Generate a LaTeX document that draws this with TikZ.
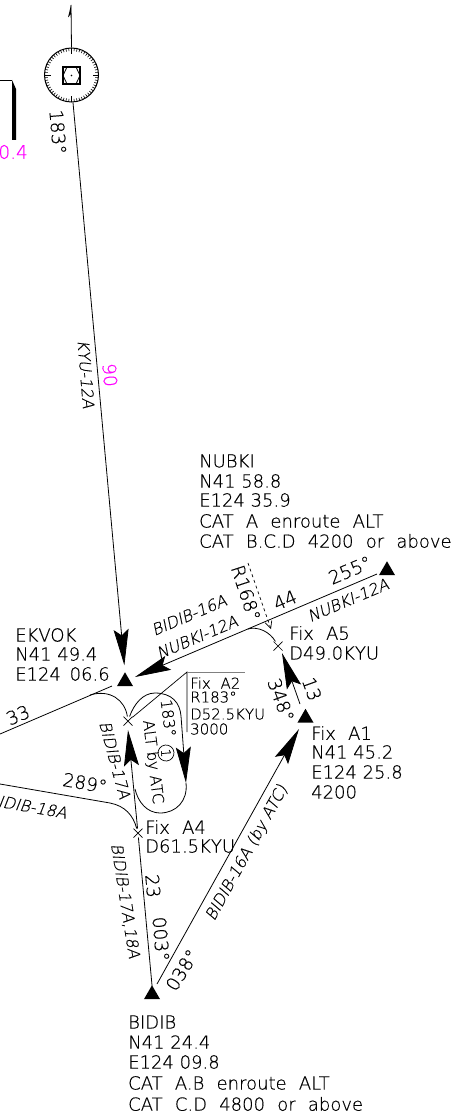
\documentclass[tikz,border=0pt]{standalone}
\usepackage{fontspec}
\setmainfont{DejaVu Sans ExtraLight}[FakeBold=0.4]
\newfontfamily\slantf{DejaVu Sans ExtraLight}[FakeSlant=0.2,FakeBold=0.4]
\usetikzlibrary{arrows.meta,shapes.geometric,shapes.misc}
\definecolor{mg}{RGB}{255,0,255}
\newcommand{\ws}{\hspace*{6.5pt}}
\tikzset{
 x=1pt,y=-1pt,
 route/.style={line width=0.8pt,black},
 bighead/.style={-{Stealth[length=36pt,width=15pt,inset=6pt]}},
 tri/.style={regular polygon,regular polygon sides=3,fill=black,draw=none,minimum size=18.5pt,inner sep=0pt,outer sep=0pt},
 fixx/.style={cross out,draw=black,line width=0.7pt,minimum size=9pt,inner sep=0pt,outer sep=0pt},
 blk/.style={anchor=west,inner sep=0pt,font=\fontsize{18}{19}\selectfont},
 small/.style={anchor=west,inner sep=0pt,font=\fontsize{15}{16}\selectfont},
 lab/.style={inner sep=0pt,font=\fontsize{18.5}{20}\selectfont},
 lsm/.style={inner sep=0pt,font=\fontsize{15.5}{17}\selectfont},
 air/.style={inner sep=0pt,font=\slantf\fontsize{16}{17}\selectfont},
}
\begin{document}
\begin{tikzpicture}
\path[use as bounding box] (0,0) rectangle (455,1118);
% VOR
\node[circle,draw=black,line width=1pt,minimum size=54pt,inner sep=0pt] (vor) at (71.5,75) {};
\foreach \a in {0,6,...,354}{\draw[line width=0.6pt] (vor.center) ++(\a:27) -- ++(\a:-3);}
\foreach \a in {0,90,180,270}{\draw[line width=0.8pt] (vor.center) ++(\a:27) -- ++(\a:-6);}
\node[draw=black,line width=1.4pt,minimum size=17pt,inner sep=0pt] (sq) at (71.5,75.5) {};
\draw[line width=0.8pt] (63,75.5)--(67,67)--(76,67)--(80,75.5)--(76,84)--(67,84)--cycle;
\fill (71.5,75.5) circle (0.9);
\coordinate (north) at (71,5);
\draw[route] (vor.north) -- (north);
\fill (north) -- (68,17.5) -- (71,14) -- cycle;
% top-left fragment
\coordinate (tl0) at (0,80);
\coordinate (tl1) at (12,80);
\draw[line width=0.7pt] (tl0) -- (tl1);
\fill (tl1) -- (16,89) -- (16,140) -- (12,140) -- cycle;
\node[lab,text=mg,anchor=east] (dist) at (28,152) {00.4};
% fixes and points
\node[tri] (ekvok) at (125,681.5) {};
\node[tri] (nubki) at (387,570.5) {};
\node[tri] (fixa1) at (305.5,718) {};
\node[tri] (bidib) at (152,994.5) {};
\node[fixx] (fixa2) at (128,721) {};
\node[fixx] (fixa4) at (138,833) {};
\node[fixx] (fixa5) at (278,646) {};
\coordinate (leftA) at (0,734);
\coordinate (leftB) at (0,784);
\coordinate (ldr1) at (187,672);
\coordinate (ldr2) at (245,672);
\coordinate (ldr3) at (187,732);
\coordinate (dash0) at (248,563);
\coordinate (dash1) at (271,629);
% connectors
\draw[route,bighead,shorten >=7pt] (vor.south) ++(1.5,0) -- (ekvok.north);
\draw[route,bighead] (377,574) -- (135,677);
\draw[route] (leftA) -- (112,686);
\draw[route] (90,695) .. controls (110,689) and (125,700) .. (fixa2);
\draw[route] (leftB) -- (110,803) .. controls (125,806) and (133,815) .. (fixa4);
\draw[route,bighead] (fixa4) -- (128,730);
\draw[route,shorten >=-1pt] (fixa4) -- (bidib.north);
\draw[route,bighead] (157,984) -- (299,729);
\draw[route,bighead] (300,704) -- (282,653);
\draw[route] (fixa5) .. controls (270,632) and (258,626) .. (248,629);
\draw[line width=0.7pt,dashed,-{Straight Barb[length=7pt,width=7pt]}] (dash0) -- (dash1);
% hold
\draw[route,bighead] (fixa2) .. controls (134,704) and (143,693) .. (155,693)
  .. controls (172,693) and (180,703) .. (181,716) -- (186,783);
\draw[route] (186,783) .. controls (188,801) and (176,813) .. (160,813)
  .. controls (147,813) and (138,802) .. (135,789);
% leader
\draw[line width=0.7pt] (fixa2) -- (ldr1) -- (ldr3);
\draw[line width=0.9pt,gray] (ldr1) -- (ldr2);
% blocks
\node[lab,rotate=-85] (t183) at (58,132) {183°};
\node[air,rotate=-85.3] (tkyu) at (86,374) {KYU-12A};
\node[lab,text=mg,rotate=-85.3] (t90) at (110,375) {90};
\node[blk,align=left] (a) at (199,461) {NUBKI};
\node[blk] (b) at (199,481) {N41 58.8};
\node[blk] (c) at (199,500) {E124 35.9};
\node[blk] (d) at (199,521) {CAT \ws A \ws enroute \ws ALT};
\node[blk] (e) at (199,541) {CAT \ws B.C.D \ws 4200 \ws or \ws above};
\node[blk] (f) at (15,635) {EKVOK};
\node[blk] (g) at (15,654) {N41 49.4};
\node[blk] (h) at (15,674) {E124 \hspace*{3pt}06.6};
\node[blk] (i) at (289,633) {Fix \ws A5};
\node[blk] (j) at (289,653) {D49.0KYU};
\node[blk] (k) at (311,733) {Fix \ws A1};
\node[blk] (l) at (311,752) {N41 45.2};
\node[blk] (m) at (311,772) {E124 25.8};
\node[blk] (n) at (311,792) {4200};
\node[blk] (o) at (145,827) {Fix \ws A4};
\node[blk] (p) at (145,846) {D61.5KYU};
\node[small] (q) at (190,683) {Fix \hspace*{5pt}A2};
\node[small] (r) at (190,697) {R183°};
\node[small] (s) at (190,714) {D52.5KYU};
\node[small] (t) at (190,729) {3000};
\node[blk] (u) at (128,1022) {BIDIB};
\node[blk] (v) at (128,1042) {N41 24.4};
\node[blk] (w) at (128,1062) {E124 09.8};
\node[blk] (x) at (128,1083) {CAT \ws A.B \ws enroute \ws ALT};
\node[blk] (y) at (128,1104) {CAT \ws C.D \ws 4800 \ws or \ws above};
% rotated
\node[air,rotate=23] (r1) at (189,615) {BIDIB-16A};
\node[air,rotate=23] (r2) at (197,637) {NUBKI-12A};
\node[air,rotate=23] (r3) at (348,600) {NUBKI-12A};
\node[lab,rotate=-72] (r4) at (246,593) {R168°};
\node[lab,rotate=23] (r5) at (285,600) {44};
\node[lab,rotate=23] (r6) at (350,570) {255°};
\node[lab,rotate=-70] (r7) at (312,689) {13};
\node[lab,rotate=-70] (r8) at (281,700) {348°};
\node[lab,rotate=23] (r9) at (18,715) {33};
\node[lab,rotate=-10] (r10) at (85,783) {289°};
\node[air,rotate=-10,anchor=east] (r11) at (67,813) {BIDIB-18A};
\node[air,rotate=-75] (r12) at (115,760) {BIDIB-17A};
\node[lsm,rotate=-83] (r13) at (168.5,718) {183°};
\node[lsm,rotate=-83] (r14) at (152.5,762) {ALT by ATC};
\node[circle,draw=black,line width=0.7pt,minimum size=16pt,inner sep=0pt,rotate=-85,font=\fontsize{13}{13}\selectfont] (r15) at (166,753) {1};
\node[air,rotate=-81] (r16) at (125,901) {BIDIB-17A,18A};
\node[lab,rotate=-85] (r17) at (153,886) {23};
\node[lab,rotate=-85] (r18) at (161,939) {003°};
\node[lab,rotate=58] (r19) at (182,970) {038°};
\node[air,rotate=61] (r20) at (247,853) {BIDIB-16A (by ATC)};
\end{tikzpicture}
\end{document}
